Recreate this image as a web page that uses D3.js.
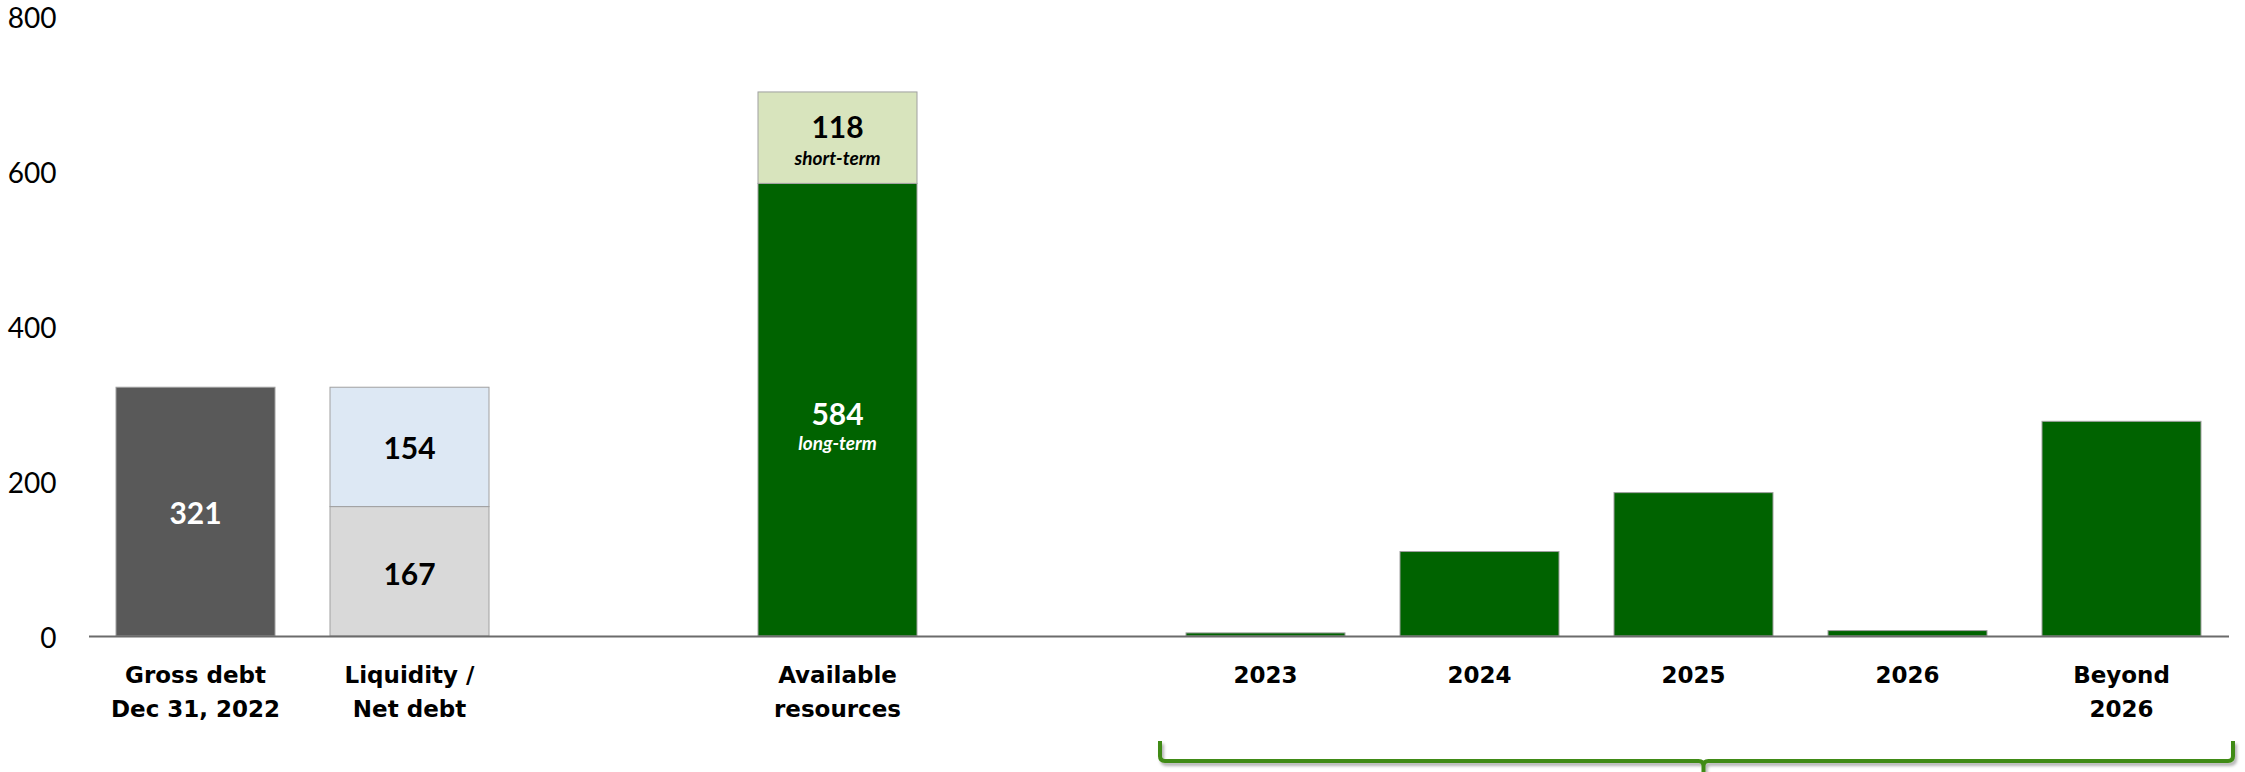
<!DOCTYPE html>
<html>
<head>
<meta charset="utf-8">
<script src="https://cdn.jsdelivr.net/npm/d3@7"></script>
<style>
  html, body { margin: 0; padding: 0; background: #ffffff; }
  svg { display: block; }
  text { font-family: "Century Gothic", Lato, "Open Sans", sans-serif; }
</style>
</head>
<body>
<svg id="chart" width="2245" height="772"></svg>
<script>
// ---- Data (EUR m) ----
const categories = ["gross", "net", "gap1", "available", "gap2", "2023", "2024", "2025", "2026", "beyond"];
const categoryLabels = [
  ["Gross debt", "Dec 31, 2022"],
  ["Liquidity /", "Net debt"],
  [],
  ["Available", "resources"],
  [],
  ["2023"], ["2024"], ["2025"], ["2026"],
  ["Beyond", "2026"]
];
const grossDebt = [321];
const liquidity = [154];
const netDebt = [167];
const longTermResources = [584];
const shortTermResources = [118];
const maturityCategories = ["2023", "2024", "2025", "2026", "beyond"];
const maturityValues = [4, 109, 185, 7, 277];
const yTicks = [0, 200, 400, 600, 800];

// ---- Layout ----
const svg = d3.select("#chart");
const baseY = 636, topY = 16;
const x = d3.scaleBand()
  .domain(categories)
  .range([88.5, 2228.5])
  .paddingInner(0.257)
  .paddingOuter(0.1285);
const y = d3.scaleLinear().domain([0, 800]).range([baseY, topY]);

// Stacked segments built from the arrays above
const segments = [
  { cat: "gross", y0: 0, y1: grossDebt[0], fill: "#595959", label: String(grossDebt[0]), color: "#ffffff", dy: 0 },
  { cat: "net", y0: 0, y1: netDebt[0], fill: "#d9d9d9", label: String(netDebt[0]), color: "#000000", dy: 2 },
  { cat: "net", y0: netDebt[0], y1: netDebt[0] + liquidity[0], fill: "#dde8f4", label: String(liquidity[0]), color: "#000000", dy: 0 },
  { cat: "available", y0: 0, y1: longTermResources[0], fill: "#006300", label: String(longTermResources[0]), sub: "long-term", color: "#ffffff", dy: 3, subDy: 33 },
  { cat: "available", y0: longTermResources[0], y1: longTermResources[0] + shortTermResources[0], fill: "#d8e4bd", label: String(shortTermResources[0]), sub: "short-term", color: "#000000", dy: -12, subDy: 20 }
];
maturityCategories.forEach((c, i) => {
  segments.push({ cat: c, y0: 0, y1: maturityValues[i], fill: "#006300" });
});

// Y axis (labels only)
const yAxis = d3.axisLeft(y).tickValues(yTicks).tickSize(0).tickPadding(32);
const yG = svg.append("g").attr("transform", `translate(${x.range()[0]},0)`).call(yAxis);
yG.select(".domain").remove();
yG.selectAll("text")
  .attr("dy", "0.42em")
  .style("font-family", '"Century Gothic", Lato, sans-serif')
  .style("font-size", "28px")
  .style("font-weight", "400")
  .attr("fill", "#000000");

// Bars
svg.append("g").selectAll("rect")
  .data(segments)
  .join("rect")
  .attr("x", d => x(d.cat))
  .attr("width", x.bandwidth())
  .attr("y", d => y(d.y1))
  .attr("height", d => y(d.y0) - y(d.y1))
  .attr("fill", d => d.fill)
  .attr("stroke", "#a0a0a0")
  .attr("stroke-width", 1);

// Value labels inside segments
const lab = svg.append("g").selectAll("g")
  .data(segments.filter(d => d.label))
  .join("g")
  .attr("transform", d => `translate(${x(d.cat) + x.bandwidth() / 2},${(y(d.y0) + y(d.y1)) / 2})`);
lab.append("text")
  .attr("text-anchor", "middle")
  .attr("dominant-baseline", "central")
  .attr("y", d => d.dy)
  .attr("fill", d => d.color)
  .style("font-size", "30px")
  .style("font-weight", "700")
  .text(d => d.label);
lab.filter(d => d.sub).append("text")
  .attr("text-anchor", "middle")
  .attr("dominant-baseline", "central")
  .attr("y", d => d.subDy)
  .attr("fill", d => d.color)
  .style("font-size", "19px")
  .style("font-weight", "700")
  .style("font-style", "italic")
  .text(d => d.sub);

// X axis with multi-line category labels
const xAxis = d3.axisBottom(x).tickSize(0).tickSizeOuter(0).tickFormat("");
const xG = svg.append("g").attr("transform", `translate(0,${baseY})`).call(xAxis);
xG.select(".domain").attr("stroke", "#6b6b6b").attr("stroke-width", 2);
xG.selectAll(".tick").each(function (d) {
  const lines = categoryLabels[categories.indexOf(d)];
  const t = d3.select(this).append("text")
    .attr("text-anchor", "middle")
    .attr("fill", "#000000")
    .style("font-family", '"Century Gothic", "DejaVu Sans", sans-serif')
    .style("font-size", "23px")
    .style("font-weight", "700");
  lines.forEach((ln, i) => {
    t.append("tspan").attr("x", 0).attr("y", 47 + i * 34).text(ln);
  });
});

// Bracket grouping the maturity bars
const defs = svg.append("defs");
const f = defs.append("filter").attr("id", "bracketShadow")
  .attr("x", "-5%").attr("y", "-50%").attr("width", "110%").attr("height", "200%");
f.append("feDropShadow").attr("dx", 2).attr("dy", 3).attr("stdDeviation", 1.5)
  .attr("flood-color", "#000000").attr("flood-opacity", 0.3);

const bl = x("2023") - 26;
const br = x("beyond") + x.bandwidth() + 32;
const bm = (bl + br) / 2 + 7;
const bTop = 741, bLine = 761, bEnd = 775, r = 5;
const bracket = d3.path();
bracket.moveTo(bl, bTop);
bracket.lineTo(bl, bLine - r);
bracket.quadraticCurveTo(bl, bLine, bl + r, bLine);
bracket.lineTo(bm - r, bLine);
bracket.quadraticCurveTo(bm, bLine, bm, bLine + r);
bracket.lineTo(bm, bEnd);
bracket.moveTo(bm, bLine + r);
bracket.quadraticCurveTo(bm, bLine, bm + r, bLine);
bracket.lineTo(br - r, bLine);
bracket.quadraticCurveTo(br, bLine, br, bLine - r);
bracket.lineTo(br, bTop);
svg.append("path")
  .attr("d", bracket.toString())
  .attr("fill", "none")
  .attr("stroke", "#3f8b12")
  .attr("stroke-width", 4)
  .attr("filter", "url(#bracketShadow)");
</script>
</body>
</html>
